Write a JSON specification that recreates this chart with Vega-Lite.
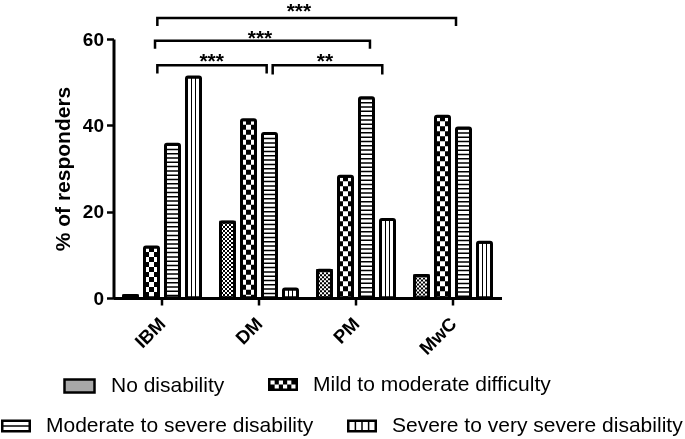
{
  "$schema": "https://vega.github.io/schema/vega-lite/v6.json",
  "width": 388,
  "height": 259,
  "autosize": {"type": "none"},
  "padding": {"left": 113.5, "top": 39, "right": 183.5, "bottom": 141},
  "background": "white",
  "config": {
    "view": {"stroke": null},
    "font": "Liberation Sans",
    "axis": {"grid": false, "domainColor": "black", "tickColor": "black", "labelColor": "black", "titleColor": "black", "labelFont": "Liberation Sans", "titleFont": "Liberation Sans"},
    "legend": {"title": null, "orient": "none", "direction": "horizontal", "symbolSize": 900, "labelFontSize": 21, "labelFont": "Liberation Sans", "labelColor": "black", "labelOffset": 15, "padding": 0, "labelLimit": 400}
  },
  "datasets": {
    "bars": [
      {"grp": "IBM", "cat": "No disability", "pct": 0.6},
      {"grp": "IBM", "cat": "Mild to moderate difficulty", "pct": 11.8},
      {"grp": "IBM", "cat": "Moderate to severe disability", "pct": 35.6},
      {"grp": "IBM", "cat": "Severe to very severe disability", "pct": 51.2},
      {"grp": "DM", "cat": "No disability", "pct": 17.6},
      {"grp": "DM", "cat": "Mild to moderate difficulty", "pct": 41.3},
      {"grp": "DM", "cat": "Moderate to severe disability", "pct": 38.1},
      {"grp": "DM", "cat": "Severe to very severe disability", "pct": 2.1},
      {"grp": "PM", "cat": "No disability", "pct": 6.4},
      {"grp": "PM", "cat": "Mild to moderate difficulty", "pct": 28.2},
      {"grp": "PM", "cat": "Moderate to severe disability", "pct": 46.4},
      {"grp": "PM", "cat": "Severe to very severe disability", "pct": 18.2},
      {"grp": "MwC", "cat": "No disability", "pct": 5.2},
      {"grp": "MwC", "cat": "Mild to moderate difficulty", "pct": 42.1},
      {"grp": "MwC", "cat": "Moderate to severe disability", "pct": 39.4},
      {"grp": "MwC", "cat": "Severe to very severe disability", "pct": 12.9}
    ],
    "brackets": [
      {"b": 1, "o": 1, "xpos": 0.452, "pct": 63.0},
      {"b": 1, "o": 2, "xpos": 0.452, "pct": 64.86},
      {"b": 1, "o": 3, "xpos": 3.531, "pct": 64.86},
      {"b": 1, "o": 4, "xpos": 3.531, "pct": 63.0},
      {"b": 2, "o": 1, "xpos": 0.428, "pct": 57.75},
      {"b": 2, "o": 2, "xpos": 0.428, "pct": 59.6},
      {"b": 2, "o": 3, "xpos": 2.644, "pct": 59.6},
      {"b": 2, "o": 4, "xpos": 2.644, "pct": 57.75},
      {"b": 3, "o": 1, "xpos": 0.452, "pct": 52.0},
      {"b": 3, "o": 2, "xpos": 0.452, "pct": 53.9},
      {"b": 3, "o": 3, "xpos": 1.579, "pct": 53.9},
      {"b": 3, "o": 4, "xpos": 1.579, "pct": 52.0},
      {"b": 4, "o": 1, "xpos": 1.641, "pct": 51.8},
      {"b": 4, "o": 2, "xpos": 1.641, "pct": 53.9},
      {"b": 4, "o": 3, "xpos": 2.771, "pct": 53.9},
      {"b": 4, "o": 4, "xpos": 2.771, "pct": 51.8}
    ],
    "stars": [
      {"xpos": 1.912, "pct": 64.9, "t": "***"},
      {"xpos": 1.51, "pct": 58.65, "t": "***"},
      {"xpos": 1.012, "pct": 53.3, "t": "***"},
      {"xpos": 2.18, "pct": 53.3, "t": "**"}
    ]
  },
  "data": {"name": "bars"},
  "encoding": {
    "y": {
      "field": "pct", "type": "quantitative",
      "scale": {"domain": [0, 60], "nice": false},
      "axis": {"title": "% of responders", "titleFontWeight": "bold", "titleFontSize": 21, "titlePadding": 9, "values": [0, 20, 40, 60], "labelFontSize": 19, "labelFontWeight": "bold", "labelPadding": 3, "tickSize": 7, "tickWidth": 2.5, "domainWidth": 3, "labelOverlap": false}
    }
  },
  "layer": [
    {
      "transform": [{"filter": {"field": "cat", "equal": "No disability"}}],
      "mark": {"type": "bar", "stroke": "black", "strokeWidth": 2.5},
      "encoding": {
        "x": {"field": "grp", "type": "nominal", "sort": ["IBM", "DM", "PM", "MwC"], "scale": {"paddingInner": 0.2062, "paddingOuter": 0.1031}, "axis": null},
        "xOffset": {"field": "cat", "type": "nominal", "scale": {"domain": ["No disability", "Mild to moderate difficulty", "Moderate to severe disability", "Severe to very severe disability"], "paddingInner": 0.3333, "paddingOuter": 0}},
        "fill": {
          "field": "cat", "type": "nominal",
          "scale": {"domain": ["No disability"], "range": ["#a8a8a8"]},
          "legend": {"legendX": -50.5, "legendY": 330.5, "symbolType": "M-1,-0.43H1V0.43H-1Z", "symbolStrokeColor": "black", "symbolStrokeWidth": 2.5}
        }
      }
    },
    {
      "transform": [{"filter": {"field": "cat", "equal": "Mild to moderate difficulty"}}],
      "mark": {"type": "bar"},
      "encoding": {
        "x": {"field": "grp", "type": "nominal", "sort": ["IBM", "DM", "PM", "MwC"], "scale": {"paddingInner": 0.2062, "paddingOuter": 0.1031}, "axis": null},
        "xOffset": {"field": "cat", "type": "nominal", "scale": {"domain": ["No disability", "Mild to moderate difficulty", "Moderate to severe disability", "Severe to very severe disability"], "paddingInner": 0.3333, "paddingOuter": 0}},
        "fill": {
          "field": "cat", "type": "nominal",
          "scale": {"domain": ["Mild to moderate difficulty"], "range": ["black"]},
          "legend": {"legendX": 154.5, "legendY": 330.5, "symbolStrokeWidth": 0,
            "symbolType": "M-1,-0.43H1V0.43H-1Z M-0.833,-0.263V0H-0.556V-0.263Z M-0.278,-0.263V0H0V-0.263Z M0.278,-0.263V0H0.556V-0.263Z M-0.556,0V0.263H-0.278V0Z M0,0V0.263H0.278V0Z M0.556,0V0.263H0.833V0Z"}
        }
      }
    },
    {
      "transform": [{"filter": {"field": "cat", "equal": "Moderate to severe disability"}}],
      "mark": {"type": "bar"},
      "encoding": {
        "x": {"field": "grp", "type": "nominal", "sort": ["IBM", "DM", "PM", "MwC"], "scale": {"paddingInner": 0.2062, "paddingOuter": 0.1031}, "axis": null},
        "xOffset": {"field": "cat", "type": "nominal", "scale": {"domain": ["No disability", "Mild to moderate difficulty", "Moderate to severe disability", "Severe to very severe disability"], "paddingInner": 0.3333, "paddingOuter": 0}},
        "fill": {
          "field": "cat", "type": "nominal",
          "scale": {"domain": ["Moderate to severe disability"], "range": ["black"]},
          "legend": {"legendX": -112.5, "legendY": 372, "symbolStrokeWidth": 0,
            "symbolType": "M-1,-0.43H1V0.43H-1Z M-0.833,-0.263V-0.05H0.833V-0.263Z M-0.833,0.05V0.263H0.833V0.05Z"}
        }
      }
    },
    {
      "transform": [{"filter": {"field": "cat", "equal": "Severe to very severe disability"}}],
      "mark": {"type": "bar"},
      "encoding": {
        "x": {"field": "grp", "type": "nominal", "sort": ["IBM", "DM", "PM", "MwC"], "scale": {"paddingInner": 0.2062, "paddingOuter": 0.1031}, "axis": null},
        "xOffset": {"field": "cat", "type": "nominal", "scale": {"domain": ["No disability", "Mild to moderate difficulty", "Moderate to severe disability", "Severe to very severe disability"], "paddingInner": 0.3333, "paddingOuter": 0}},
        "fill": {
          "field": "cat", "type": "nominal",
          "scale": {"domain": ["Severe to very severe disability"], "range": ["black"]},
          "legend": {"legendX": 233.5, "legendY": 372, "symbolStrokeWidth": 0,
            "symbolType": "M-1,-0.43H1V0.43H-1Z M-0.833,-0.263V0.263H-0.491V-0.263Z M-0.391,-0.263V0.263H-0.05V-0.263Z M0.05,-0.263V0.263H0.391V-0.263Z M0.491,-0.263V0.263H0.833V-0.263Z"}
        }
      }
    },
    {
      "mark": {"type": "bar"},
      "encoding": {
        "x": {"field": "grp", "type": "nominal", "sort": ["IBM", "DM", "PM", "MwC"], "scale": {"paddingInner": 0.2062, "paddingOuter": 0.1031},
          "axis": {"title": null, "labelAngle": -45, "labelFontSize": 18.5, "labelFontWeight": "bold", "labelPadding": 9, "labelOffset": -6, "tickSize": 7, "tickWidth": 2.5, "domainWidth": 3}},
        "xOffset": {"field": "cat", "type": "nominal", "scale": {"domain": ["No disability", "Mild to moderate difficulty", "Moderate to severe disability", "Severe to very severe disability"], "paddingInner": 0.3333, "paddingOuter": 0}},
        "fill": {
          "condition": [
            {"test": "datum.cat === 'No disability'", "value": {"gradient": "linear", "x1": 0, "y1": 0, "x2": 1, "y2": 0, "stops": [
              {"offset": 0, "color": "black"}, {"offset": 0.1429, "color": "black"}, {"offset": 0.1429, "color": "white"}, {"offset": 0.2857, "color": "white"}, {"offset": 0.2857, "color": "black"}, {"offset": 0.4286, "color": "black"}, {"offset": 0.4286, "color": "white"}, {"offset": 0.5714, "color": "white"}, {"offset": 0.5714, "color": "black"}, {"offset": 0.7143, "color": "black"}, {"offset": 0.7143, "color": "white"}, {"offset": 0.8571, "color": "white"}, {"offset": 0.8571, "color": "black"}, {"offset": 1, "color": "black"}]}},
            {"test": "datum.cat === 'Mild to moderate difficulty'", "value": {"gradient": "linear", "x1": 0, "y1": 0, "x2": 1, "y2": 0, "stops": [
              {"offset": 0, "color": "black"}, {"offset": 0.3333, "color": "black"}, {"offset": 0.3333, "color": "white"}, {"offset": 0.6667, "color": "white"}, {"offset": 0.6667, "color": "black"}, {"offset": 1, "color": "black"}]}},
            {"test": "datum.cat === 'Severe to very severe disability'", "value": {"gradient": "linear", "x1": 0, "y1": 0, "x2": 1, "y2": 0, "stops": [
              {"offset": 0, "color": "white"}, {"offset": 0.3, "color": "white"}, {"offset": 0.3, "color": "black"}, {"offset": 0.407, "color": "black"}, {"offset": 0.407, "color": "white"}, {"offset": 0.593, "color": "white"}, {"offset": 0.593, "color": "black"}, {"offset": 0.7, "color": "black"}, {"offset": 0.7, "color": "white"}, {"offset": 1, "color": "white"}]}}
          ],
          "value": "white"
        }
      }
    },
    {
      "transform": [{"filter": "datum.cat !== 'Severe to very severe disability'"}],
      "mark": {"type": "rule", "stroke": "white", "strokeWidth": 14, "blend": "difference", "strokeCap": "butt"},
      "encoding": {
        "x": {"field": "grp", "type": "nominal", "sort": ["IBM", "DM", "PM", "MwC"], "scale": {"paddingInner": 0.2062, "paddingOuter": 0.1031}, "axis": null},
        "xOffset": {"field": "cat", "type": "nominal", "scale": {"domain": ["No disability", "Mild to moderate difficulty", "Moderate to severe disability", "Severe to very severe disability"], "paddingInner": 0.3333, "paddingOuter": 0}},
        "y2": {"datum": 0},
        "strokeDash": {"field": "cat", "type": "nominal", "scale": {"domain": ["No disability", "Mild to moderate difficulty", "Moderate to severe disability"], "range": [[2, 2], [5, 5], [1.5, 2.8]]}, "legend": null}
      }
    },
    {
      "mark": {"type": "bar", "filled": false, "stroke": "black", "strokeWidth": 3, "cornerRadius": 1.5},
      "encoding": {
        "x": {"field": "grp", "type": "nominal", "sort": ["IBM", "DM", "PM", "MwC"], "scale": {"paddingInner": 0.2062, "paddingOuter": 0.1031}, "axis": null},
        "xOffset": {"field": "cat", "type": "nominal", "scale": {"domain": ["No disability", "Mild to moderate difficulty", "Moderate to severe disability", "Severe to very severe disability"], "paddingInner": 0.3333, "paddingOuter": 0}}
      }
    },
    {
      "data": {"name": "brackets"},
      "mark": {"type": "line", "color": "black", "strokeWidth": 2.5, "strokeCap": "butt", "strokeJoin": "miter"},
      "encoding": {
        "x": {"field": "xpos", "type": "quantitative", "scale": {"domain": [0, 4], "nice": false, "zero": false}, "axis": null},
        "detail": {"field": "b", "type": "nominal"},
        "order": {"field": "o", "type": "quantitative"}
      }
    },
    {
      "data": {"name": "stars"},
      "mark": {"type": "text", "fontSize": 21, "fontWeight": "bold", "baseline": "alphabetic", "align": "center", "font": "Liberation Sans", "color": "black"},
      "encoding": {
        "x": {"field": "xpos", "type": "quantitative", "scale": {"domain": [0, 4], "nice": false, "zero": false}, "axis": null},
        "text": {"field": "t", "type": "nominal"}
      }
    }
  ],
  "resolve": {"scale": {"x": "independent", "fill": "independent"}, "axis": {"x": "independent"}}
}
